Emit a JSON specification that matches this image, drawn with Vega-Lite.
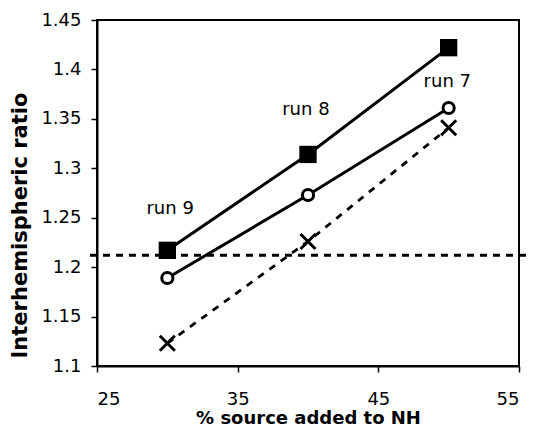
{
  "$schema": "https://vega.github.io/schema/vega-lite/v6.json",
  "width": 422,
  "height": 346,
  "autosize": "none",
  "padding": {"left": 97, "top": 20, "right": 14, "bottom": 65},
  "background": "white",
  "config": {
    "view": {"stroke": "black", "strokeWidth": 2},
    "font": "DejaVu Sans",
    "axis": {
      "grid": false,
      "domainColor": "black",
      "domainWidth": 2,
      "tickColor": "black",
      "tickWidth": 1.5,
      "tickSize": 6,
      "labelFont": "DejaVu Sans",
      "labelFontSize": 18,
      "labelColor": "black",
      "titleFont": "DejaVu Sans",
      "titleFontSize": 18,
      "titleFontWeight": "bold",
      "titleColor": "black"
    }
  },
  "datasets": {
    "pts": [
      {"x": 30, "y": 1.217, "series": "square"},
      {"x": 40, "y": 1.314, "series": "square"},
      {"x": 50, "y": 1.422, "series": "square"},
      {"x": 30, "y": 1.189, "series": "circle"},
      {"x": 40, "y": 1.273, "series": "circle"},
      {"x": 50, "y": 1.361, "series": "circle"},
      {"x": 30, "y": 1.123, "series": "cross"},
      {"x": 40, "y": 1.226, "series": "cross"},
      {"x": 50, "y": 1.341, "series": "cross"}
    ],
    "labels": [
      {"x": 30.2, "y": 1.259, "text": "run 9"},
      {"x": 39.85, "y": 1.359, "text": "run 8"},
      {"x": 49.9, "y": 1.387, "text": "run 7"}
    ],
    "ref": [{"x": 24.5, "x2": 55.8, "y": 1.212}]
  },
  "layer": [
    {
      "data": {"name": "pts"},
      "transform": [{"filter": "datum.series !== 'cross'"}],
      "mark": {"type": "line", "color": "black", "strokeWidth": 3},
      "encoding": {
        "x": {"field": "x", "type": "quantitative", "scale": {"domain": [25, 55], "nice": false}, "axis": {"values": [25, 35, 45, 55], "title": "% source added to NH", "labelPadding": 18, "titleY": 57, "titleBaseline": "alphabetic"}},
        "y": {"field": "y", "type": "quantitative", "scale": {"domain": [1.1, 1.45], "nice": false, "zero": false}, "axis": {"values": [1.1, 1.15, 1.2, 1.25, 1.3, 1.35, 1.4, 1.45], "format": "~g", "title": "Interhemispheric ratio", "labelPadding": 10, "titleX": -71, "titleY": 205, "titleBaseline": "alphabetic", "titleFontSize": 21}},
        "detail": {"field": "series"}
      }
    },
    {
      "data": {"name": "ref"},
      "mark": {"type": "rule", "color": "black", "strokeWidth": 3, "strokeDash": [7, 6]},
      "encoding": {
        "x": {"field": "x", "type": "quantitative"},
        "x2": {"field": "x2"},
        "y": {"field": "y", "type": "quantitative"}
      }
    },
    {
      "data": {"name": "pts"},
      "transform": [{"filter": "datum.series === 'cross'"}],
      "mark": {"type": "line", "color": "black", "strokeWidth": 2.8, "strokeDash": [7, 7]},
      "encoding": {
        "x": {"field": "x", "type": "quantitative"},
        "y": {"field": "y", "type": "quantitative"}
      }
    },
    {
      "data": {"name": "pts"},
      "transform": [{"filter": "datum.series === 'square'"}],
      "mark": {"type": "point", "shape": "square", "filled": true, "color": "black", "size": 300, "opacity": 1},
      "encoding": {
        "x": {"field": "x", "type": "quantitative"},
        "y": {"field": "y", "type": "quantitative"}
      }
    },
    {
      "data": {"name": "pts"},
      "transform": [{"filter": "datum.series === 'circle'"}],
      "mark": {"type": "point", "shape": "circle", "filled": true, "fill": "white", "stroke": "black", "strokeWidth": 3, "size": 125, "opacity": 1},
      "encoding": {
        "x": {"field": "x", "type": "quantitative"},
        "y": {"field": "y", "type": "quantitative"}
      }
    },
    {
      "data": {"name": "pts"},
      "transform": [{"filter": "datum.series === 'cross'"}],
      "mark": {"type": "point", "shape": "M-1,-1L1,1M1,-1L-1,1", "filled": false, "stroke": "black", "strokeWidth": 3, "size": 225, "opacity": 1},
      "encoding": {
        "x": {"field": "x", "type": "quantitative"},
        "y": {"field": "y", "type": "quantitative"}
      }
    },
    {
      "data": {"name": "labels"},
      "mark": {"type": "text", "font": "DejaVu Sans", "fontSize": 18, "color": "black"},
      "encoding": {
        "x": {"field": "x", "type": "quantitative"},
        "y": {"field": "y", "type": "quantitative"},
        "text": {"field": "text"}
      }
    }
  ]
}
